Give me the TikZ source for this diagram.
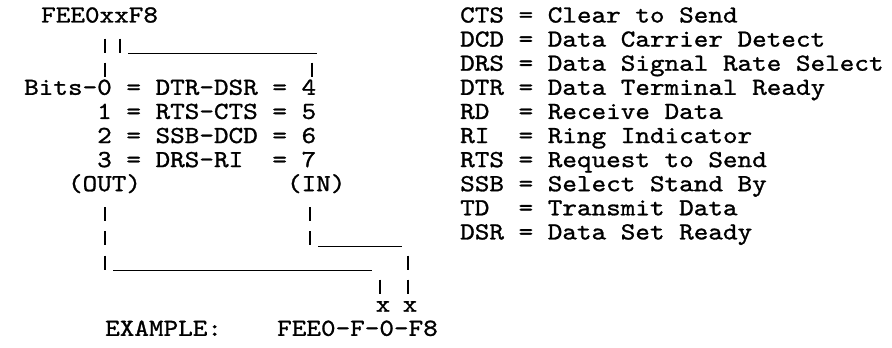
\documentclass[tikz,border=0pt]{standalone}
\usepackage{fontspec}
\newfontfamily\typewriter{lmmono10-regular.otf}[FakeStretch=1.135, FakeBold=1.1]
\usetikzlibrary{positioning}

\begin{document}
\begin{tikzpicture}[
		x=1pt, y=-1pt,
		every node/.style={font=\typewriter\fontsize{24.5}{29}\selectfont, inner sep=0pt, anchor=base west},
		nextline/.style={below=24.1pt of #1, anchor=base west},
		pipe/.style={line width=1.6pt, dash pattern=on 14pt off 10.1pt},
		rule/.style={line width=1.4pt}
		]
		\useasboundingbox (0,0) rectangle (892,348);
		
		% Bits
		\node (word) at (41,22.5) {FEE0xxF8};
		\node (bit0) at (24,94.8) {Bits-0 = DTR-DSR = 4};
		\node (bit1) at (97,118.9) {1 = RTS-CTS = 5};
		\node (bit2) at (97,143.0) {2 = SSB-DCD = 6};
		\node (bit3) at (97,167.1) {3 = DRS-RI\ \ = 7};
		\node (out) at (67.8,191.2) {(OUT)};
		\node (in) at (286.8,191.2) {(IN)};
		\node[anchor=base] (xout) at (383,311.7) {x};
		\node[anchor=base] (xin) at (410,311.7) {x};
		\node (example) at (105,335.8) {EXAMPLE:};
		\node (value) at (277,335.8) {FEE0-F-0-F8};
		
		% Abreviaturas
		\node (cts) at (460,22.5) {CTS = Clear to Send};
		\node[nextline=cts.base west] (dcd) {DCD = Data Carrier Detect};
		\node[nextline=dcd.base west] (drs) {DRS = Data Signal Rate Select};
		\node[nextline=drs.base west] (dtr) {DTR = Data Terminal Ready};
		\node[nextline=dtr.base west] (rd) {RD\ \ = Receive Data};
		\node[nextline=rd.base west] (ri) {RI\ \ = Ring Indicator};
		\node[nextline=ri.base west] (rts) {RTS = Request to Send};
		\node[nextline=rts.base west] (ssb) {SSB = Select Stand By};
		\node[nextline=ssb.base west] (td) {TD\ \ = Transmit Data};
		\node[nextline=td.base west] (dsr) {DSR = Data Set Ready};
		
		% Puntos de las lineas
		\coordinate (a0) at (105,38.6);   \coordinate (a1) at (105,76.7);
		\coordinate (b0) at (120,38.6);   \coordinate (b1) at (120,52.6);
		\coordinate (b2) at (128,53.6);   \coordinate (b3) at (317,53.6);
		\coordinate (b4) at (312,62.7);   \coordinate (b5) at (312,76.7);
		\coordinate (o0) at (105,207.3);  \coordinate (o1) at (105,269.5);
		\coordinate (o2) at (113,270.5);  \coordinate (o3) at (372,270.5);
		\coordinate (o4) at (380,279.6);  \coordinate (o5) at (380,293.6);
		\coordinate (i0) at (310,207.3);  \coordinate (i1) at (310,245.4);
		\coordinate (i2) at (318,246.4);  \coordinate (i3) at (402,246.4);
		\coordinate (i4) at (408,255.5);  \coordinate (i5) at (408,293.6);
		
		% Lineas
		\draw[pipe] (a0) -- (a1);
		\draw[pipe] (b0) -- (b1);
		\draw[rule] (b2) -- (b3);
		\draw[pipe] (b4) -- (b5);
		\draw[pipe] (o0) -- (o1);
		\draw[rule] (o2) -- (o3);
		\draw[pipe] (o4) -- (o5);
		\draw[pipe] (i0) -- (i1);
		\draw[rule] (i2) -- (i3);
		\draw[pipe] (i4) -- (i5);
		
	\end{tikzpicture}
\end{document}
